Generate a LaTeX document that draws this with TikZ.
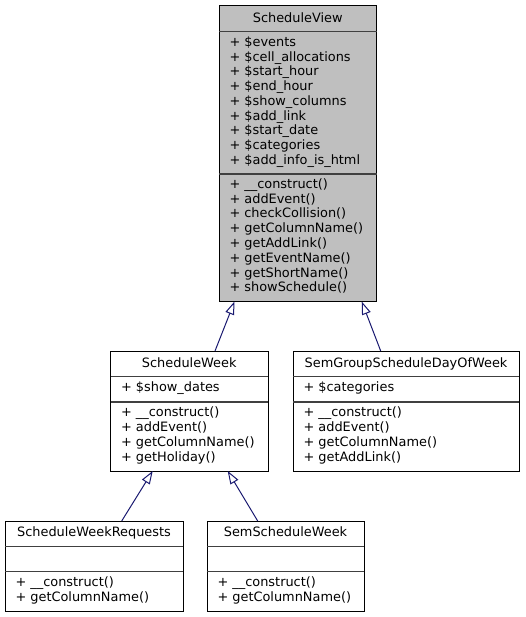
\documentclass[tikz,border=0pt]{standalone}
\usepackage{fontspec}
\setmainfont{DejaVu Sans}
\usetikzlibrary{arrows.meta}
\definecolor{svfill}{HTML}{BFBFBF}
\definecolor{edgeblue}{HTML}{191970}
\definecolor{divcol}{HTML}{404040}
\tikzset{
  cls/.style={draw=black, line width=1pt, anchor=north west, inner sep=0pt, outer sep=0pt, fill=white},
  divline/.style={draw=divcol, line width=1.2pt},
  lbl/.style={anchor=base west, inner sep=0pt, outer sep=0pt, font=\fontsize{12.9}{14.75}\selectfont},
  ttl/.style={anchor=base, inner sep=0pt, outer sep=0pt, font=\fontsize{12.9}{14.75}\selectfont},
  inh/.style={draw=edgeblue, line width=1pt, -{Triangle[open, length=13pt, width=9pt]}}
}
\begin{document}
\begin{tikzpicture}[x=1pt, y=-1pt]
\useasboundingbox (0,0) rectangle (525,617);

% ScheduleView
\node[cls, fill=svfill, minimum width=157.5pt, minimum height=296pt] (sv) at (219,5.5) {};
\draw[divline] (219,31.7) -- (376.5,31.7);
\draw[divline] (219,174) -- (376.5,174);
\node[ttl] (svt) at (297.75,22.5) {ScheduleView};
\node[lbl] (sva1) at (229.5,46.5) {+ \$events};
\node[lbl] (sva2) at (229.5,61.25) {+ \$cell\_allocations};
\node[lbl] (sva3) at (229.5,76) {+ \$start\_hour};
\node[lbl] (sva4) at (229.5,90.75) {+ \$end\_hour};
\node[lbl] (sva5) at (229.5,105.5) {+ \$show\_columns};
\node[lbl] (sva6) at (229.5,120.25) {+ \$add\_link};
\node[lbl] (sva7) at (229.5,135) {+ \$start\_date};
\node[lbl] (sva8) at (229.5,149.75) {+ \$categories};
\node[lbl] (sva9) at (229.5,164.5) {+ \$add\_info\_is\_html};
\node[lbl] (svm1) at (229.5,188.5) {+ \_\_construct()};
\node[lbl] (svm2) at (229.5,203.25) {+ addEvent()};
\node[lbl] (svm3) at (229.5,218) {+ checkCollision()};
\node[lbl] (svm4) at (229.5,232.75) {+ getColumnName()};
\node[lbl] (svm5) at (229.5,247.5) {+ getAddLink()};
\node[lbl] (svm6) at (229.5,262.25) {+ getEventName()};
\node[lbl] (svm7) at (229.5,277) {+ getShortName()};
\node[lbl] (svm8) at (229.5,291.75) {+ showSchedule()};

% ScheduleWeek
\node[cls, minimum width=157.5pt, minimum height=120pt] (sw) at (110.5,351) {};
\draw[divline] (110.5,376.5) -- (268,376.5);
\draw[divline] (110.5,402) -- (268,402);
\node[ttl] (swt) at (189.25,367) {ScheduleWeek};
\node[lbl] (swa1) at (121,391.5) {+ \$show\_dates};
\node[lbl] (swm1) at (121,416.75) {+ \_\_construct()};
\node[lbl] (swm2) at (121,431.5) {+ addEvent()};
\node[lbl] (swm3) at (121,446.25) {+ getColumnName()};
\node[lbl] (swm4) at (121,461) {+ getHoliday()};

% SemGroupScheduleDayOfWeek
\node[cls, minimum width=226pt, minimum height=120pt] (sg) at (293,351) {};
\draw[divline] (293,376.5) -- (519,376.5);
\draw[divline] (293,402) -- (519,402);
\node[ttl] (sgt) at (406,367) {SemGroupScheduleDayOfWeek};
\node[lbl] (sga1) at (303.5,391.5) {+ \$categories};
\node[lbl] (sgm1) at (303.5,416.75) {+ \_\_construct()};
\node[lbl] (sgm2) at (303.5,431.5) {+ addEvent()};
\node[lbl] (sgm3) at (303.5,446.25) {+ getColumnName()};
\node[lbl] (sgm4) at (303.5,461) {+ getAddLink()};

% ScheduleWeekRequests
\node[cls, minimum width=178pt, minimum height=90.5pt] (swr) at (5,521) {};
\draw[divline] (5,546.5) -- (183,546.5);
\draw[divline] (5,571.5) -- (183,571.5);
\node[ttl] (swrt) at (94,536.5) {ScheduleWeekRequests};
\node[lbl] (swrm1) at (15.5,586.5) {+ \_\_construct()};
\node[lbl] (swrm2) at (15.5,601.25) {+ getColumnName()};

% SemScheduleWeek
\node[cls, minimum width=157pt, minimum height=90.5pt] (ssw) at (207,521) {};
\draw[divline] (207,546.5) -- (364,546.5);
\draw[divline] (207,571.5) -- (364,571.5);
\node[ttl] (sswt) at (285.5,536.5) {SemScheduleWeek};
\node[lbl] (sswm1) at (217.5,586.5) {+ \_\_construct()};
\node[lbl] (sswm2) at (217.5,601.25) {+ getColumnName()};

% inheritance
\draw[inh] ([xshift=104.5pt]sw.north west) -- ([xshift=15.5pt]sv.south west);
\draw[inh] ([xshift=87.7pt]sg.north west) -- ([xshift=142.7pt]sv.south west);
\draw[inh] ([xshift=116.7pt]swr.north west) -- ([xshift=42.2pt]sw.south west);
\draw[inh] ([xshift=50.7pt]ssw.north west) -- ([xshift=117.2pt]sw.south west);
\end{tikzpicture}
\end{document}
